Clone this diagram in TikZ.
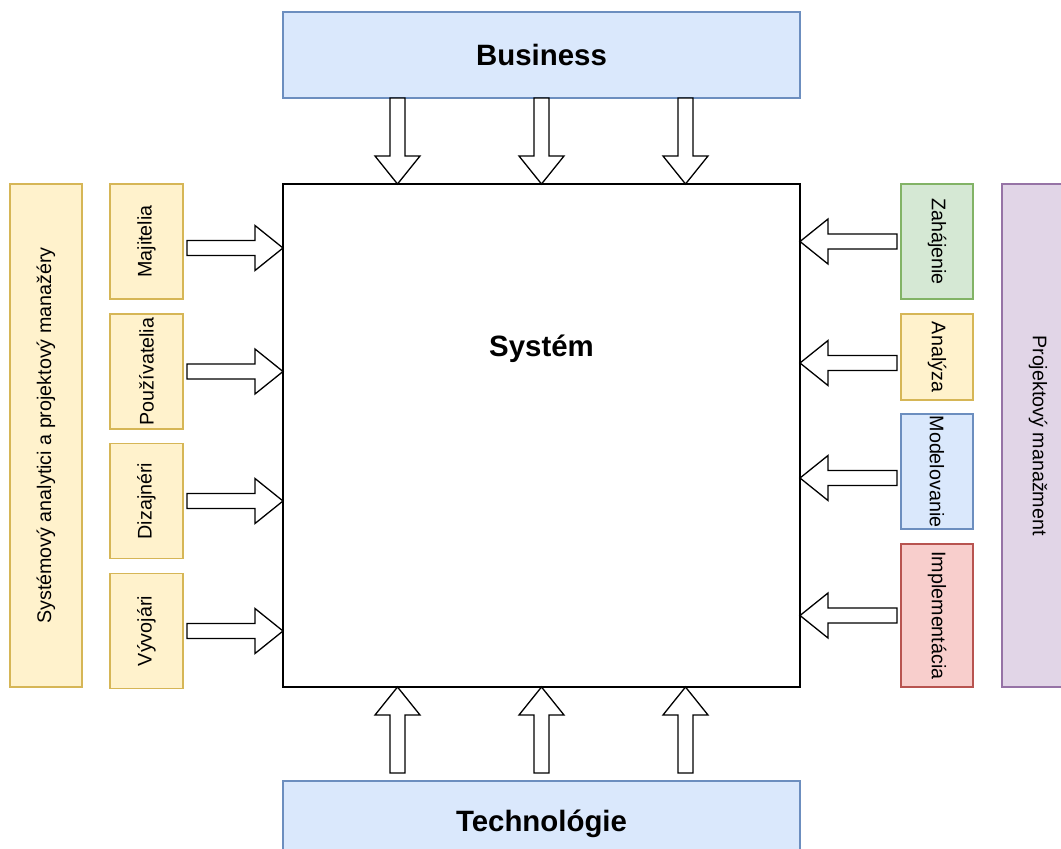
\documentclass[tikz,border=0pt]{standalone}
\usepackage{fontspec}
\setmainfont{Liberation Sans}
\usetikzlibrary{positioning, calc}
\definecolor{yfill}{RGB}{255, 242, 204}
\definecolor{yline}{RGB}{214, 182, 86}
\definecolor{bfill}{RGB}{218, 232, 252}
\definecolor{bline}{RGB}{108, 142, 191}
\definecolor{gfill}{RGB}{213, 232, 212}
\definecolor{gline}{RGB}{130, 179, 102}
\definecolor{rfill}{RGB}{248, 206, 204}
\definecolor{rline}{RGB}{184, 84, 80}
\definecolor{pfill}{RGB}{225, 213, 231}
\definecolor{pline}{RGB}{150, 115, 166}

\begin{document}
\begin{tikzpicture}[
    x=1pt, y=1pt,
    node distance=15pt,
    box/.style={rectangle, draw, line width=1.3pt, inner sep=0pt, outer sep=0pt, font=\fontsize{19.7}{23}\selectfont},
    layer/.style={box, fill=bfill, draw=bline, minimum width=517pt, minimum height=86pt, font=\bfseries\fontsize{29.4}{34}\selectfont},
    side/.style={box, minimum width=72pt, minimum height=503pt},
    role/.style={box, fill=yfill, draw=yline, minimum width=73pt, minimum height=115pt},
    phase/.style={box, minimum width=72pt},
    fat/.style={draw=black, fill=white, line width=1.3pt,
        to path={let \p1=(\tikztostart), \p2=(\tikztotarget),
            \n1={atan2(\y2-\y1,\x2-\x1)}, \n2={veclen(\x2-\x1,\y2-\y1)} in
            {[shift={(\p1)}, rotate=\n1]
            (0pt,7.5pt) -- ({\n2-28pt},7.5pt) -- ({\n2-28pt},22.5pt) -- (\n2,0pt)
            -- ({\n2-28pt},-22.5pt) -- ({\n2-28pt},-7.5pt) -- (0pt,-7.5pt) -- cycle}}}
]
\path[use as bounding box, clip] (0,0) rectangle (1061,-849);

% System
\node[box, draw=black, line width=1.6pt, minimum width=517pt, minimum height=503pt] (sys) at (541.5,-435.5) {};
\node[anchor=base, font=\bfseries\fontsize{29.4}{34}\selectfont] (sysname) at ($(sys.north)+(0,-172)$) {Systém};

% Layers
\node[layer, above=86pt of sys] (biz) {Business};
\node[layer, below=94pt of sys] (tech) {Technológie};

% Sides
\node[side, fill=yfill, draw=yline, left=201pt of sys] (team) {\rotatebox{90}{Systémový analytici a projektový manažéry}};
\node[side, fill=pfill, draw=pline, right=202pt of sys] (pm) {\rotatebox{-90}{Projektový manažment}};

% Roles
\node[role, left=100pt of sys.north west, anchor=north east] (own) {\rotatebox{90}{Majitelia}};
\node[role, below=of own] (users) {\rotatebox{90}{Používatelia}};
\node[role, below=14.5pt of users] (design) {\rotatebox{90}{Dizajnéri}};
\node[role, below=of design] (devs) {\rotatebox{90}{Vývojári}};

% Phases
\node[phase, fill=gfill, draw=gline, minimum height=115pt, right=101pt of sys.north east, anchor=north west] (init) {\rotatebox{-90}{Zahájenie}};
\node[phase, fill=yfill, draw=yline, minimum height=86pt, below=of init] (anal) {\rotatebox{-90}{Analýza}};
\node[phase, fill=bfill, draw=bline, minimum height=115pt, below=14pt of anal] (model) {\rotatebox{-90}{Modelovanie}};
\node[phase, fill=rfill, draw=rline, minimum height=143pt, below=of model] (impl) {\rotatebox{-90}{Implementácia}};

% Business arrows
\draw[fat] ($(biz.south)+(-144,0)$) to ($(sys.north)+(-144,0)$);
\draw[fat] (biz.south) to (sys.north);
\draw[fat] ($(biz.south)+(144,0)$) to ($(sys.north)+(144,0)$);

% Technology arrows
\draw[fat] ($(tech.north)+(-144,8)$) to ($(sys.south)+(-144,0)$);
\draw[fat] ($(tech.north)+(0,8)$) to (sys.south);
\draw[fat] ($(tech.north)+(144,8)$) to ($(sys.south)+(144,0)$);

% Role arrows
\draw[fat] ($(own.east)+(4,-6.5)$) to ($(own.east -| sys.west)+(0,-6.5)$);
\draw[fat] ($(users.east)+(4,0)$) to (users.east -| sys.west);
\draw[fat] ($(design.east)+(4,0)$) to (design.east -| sys.west);
\draw[fat] ($(devs.east)+(4,0)$) to (devs.east -| sys.west);

% Phase arrows
\draw[fat] ($(init.west)+(-4,0)$) to (init.west -| sys.east);
\draw[fat] ($(anal.west)+(-4,-6)$) to ($(anal.west -| sys.east)+(0,-6)$);
\draw[fat] ($(model.west)+(-4,-6.5)$) to ($(model.west -| sys.east)+(0,-6.5)$);
\draw[fat] ($(impl.west)+(-4,0)$) to (impl.west -| sys.east);

\end{tikzpicture}
\end{document}
